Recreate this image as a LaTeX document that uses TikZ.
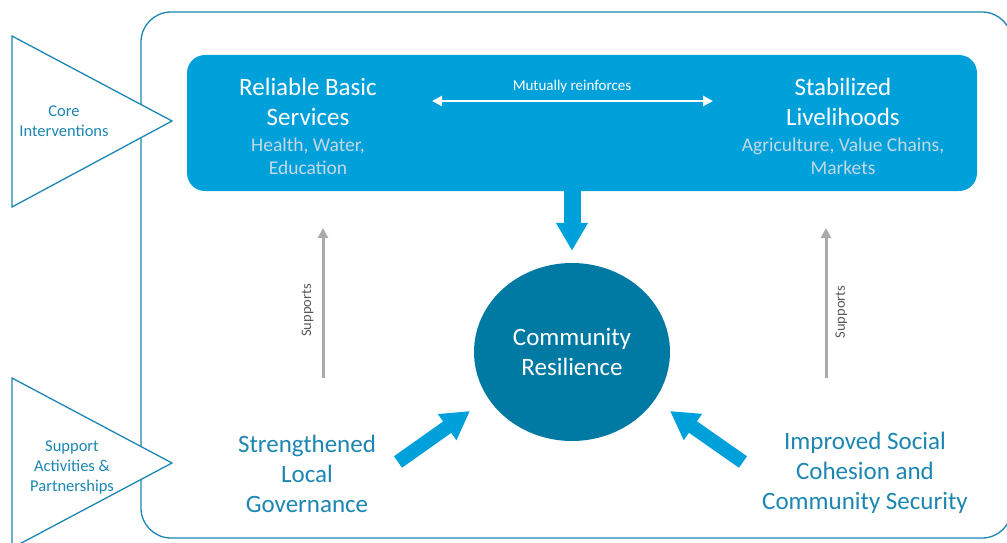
\documentclass[tikz,border=0pt]{standalone}
\usepackage{fontspec}
\setmainfont{Carlito}
\usetikzlibrary{arrows.meta,shapes.geometric}
\definecolor{boxblue}{RGB}{0,161,219}
\definecolor{circblue}{RGB}{0,122,163}
\definecolor{edgeblue}{RGB}{28,134,178}
\definecolor{subtxt}{RGB}{196,216,228}
\definecolor{supgray}{RGB}{170,170,170}
\tikzset{
  frameline/.style={draw=edgeblue, line width=1.3pt},
  bigtxt/.style={align=center, font=\fontsize{25}{30}\selectfont, inner sep=0pt},
  subtext/.style={align=center, font=\fontsize{19.5}{23}\selectfont, text=subtxt, inner sep=0pt},
  sidetxt/.style={align=center, font=\fontsize{16.5}{20}\selectfont, text=edgeblue, inner sep=0pt},
  fatarrow/.style={draw=boxblue, line width=#1, -{Triangle[length=28pt,width=30pt]}},
  fatarrow/.default=14pt,
  grayarrow/.style={draw=supgray, line width=3pt, -{Triangle[length=10pt,width=10pt]}},
  suplabel/.style={font=\fontsize{14.5}{17}\selectfont, text=black!65, rotate=90, inner sep=8pt}
}
\begin{document}
\begin{tikzpicture}[x=1pt,y=-1pt]
\useasboundingbox (0,0) rectangle (1007,543);
\clip (0,0) rectangle (1007,543);
% outer frame
\node[frameline, rounded corners=30pt, minimum width=871pt, minimum height=526pt, inner sep=0pt] (frame) at (576.5,275) {};
% side triangles
\draw[frameline, fill=white] (12,36) -- (172,121) -- (12,207) -- cycle;
\draw[frameline, fill=white] (12,378) -- (172,463) -- (12,548) -- cycle;
\node[sidetxt] (core) at (64,121) {Core\\Interventions};
\node[sidetxt] (supp) at (72,467) {Support\\Activities \&\\Partnerships};
% top blue box
\node[fill=boxblue, rounded corners=18pt, minimum width=790pt, minimum height=136pt, inner sep=0pt] (box) at (582,123) {};
\node[bigtxt, text=white] (svc) at (308,102) {Reliable Basic\\Services};
\node[subtext] (svcsub) at (308,156) {Health, Water,\\Education};
\node[bigtxt, text=white] (liv) at (843,102) {Stabilized\\Livelihoods};
\node[subtext] (livsub) at (843,156) {Agriculture, Value Chains,\\Markets};
\node[font=\fontsize{15}{18}\selectfont, text=white, inner sep=0pt] (mutual) at (572,87) {Mutually reinforces};
\coordinate (ml) at (432,101);
\coordinate (mr) at (713,101);
\draw[white, line width=2.5pt, {Triangle[length=10pt,width=10pt]}-{Triangle[length=10pt,width=10pt]}] (ml) -- (mr);
% circle
\node[ellipse, fill=circblue, minimum width=196pt, minimum height=178pt, inner sep=0pt, bigtxt, text=white] (circ) at (572,352) {Community\\Resilience};
% down arrow
\draw[fatarrow=17pt] (circ.north |- box.south) -- ([yshift=12pt]circ.north);
% bottom texts
\node[bigtxt, text=edgeblue] (gov) at (307,474) {Strengthened\\Local\\Governance};
\node[bigtxt, text=edgeblue] (soc) at (865,473) {Improved Social\\Cohesion and\\Community Security};
% diagonal arrows
\coordinate (gtail) at (398,462);
\coordinate (gtip) at (470,411);
\coordinate (stail) at (743,462);
\coordinate (stip) at (670,411);
\draw[fatarrow] (gtail) -- (gtip);
\draw[fatarrow] (stail) -- (stip);
% supports arrows
\coordinate (lb) at (323,378);
\coordinate (lt) at (323,228);
\coordinate (rb) at (826,378);
\coordinate (rt) at (826,228);
\draw[grayarrow] (lb) -- node[suplabel, pos=0.45, anchor=south] {Supports} (lt);
\draw[grayarrow] (rb) -- node[suplabel, pos=0.44, anchor=north] {Supports} (rt);
\end{tikzpicture}
\end{document}
